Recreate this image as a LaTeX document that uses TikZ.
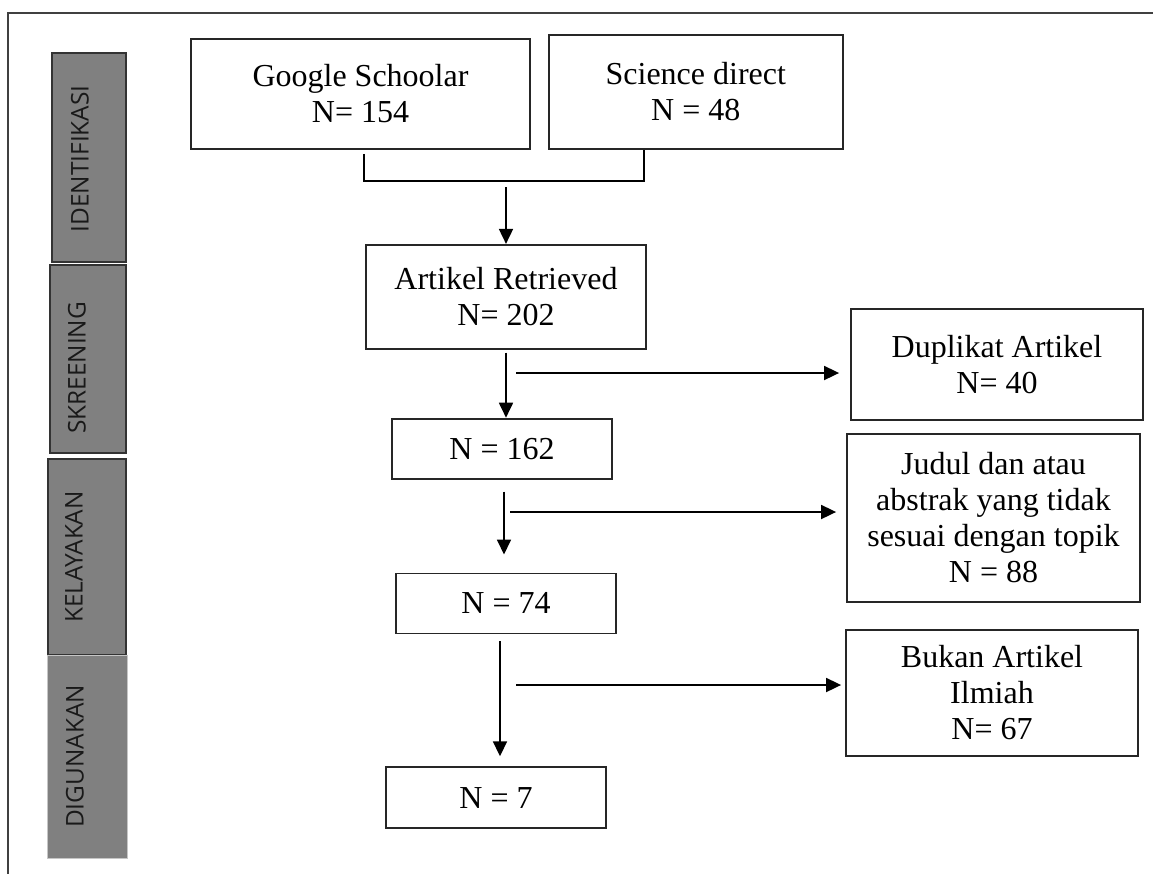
\documentclass[tikz,border=0pt]{standalone}
\usepackage{fontspec}
\setmainfont{Liberation Serif}
\setsansfont{Open Sans}
\usetikzlibrary{arrows.meta,positioning}
\tikzset{box/.style={rectangle, draw=black!85, line width=0.9pt, align=center, inner sep=2pt, font=\fontsize{16}{18}\selectfont}}
\tikzset{phase/.style={rectangle, draw=black!80, line width=0.9pt, fill=gray, inner sep=0pt}}
\tikzset{phasetxt/.style={rotate=90, inner sep=0pt, text=black!90, font=\sffamily\fontsize{12.2}{14}\selectfont}}
\tikzset{arr/.style={-{Triangle[length=7.5pt,width=7pt]}, line width=0.9pt}}

\begin{document}
\begin{tikzpicture}[x=0.5pt,y=-0.5pt]
    \useasboundingbox (0,0) rectangle (1153,874);
    \draw[line width=1.2pt, black!75] (8,874) -- (8,13) -- (1153,13);

    % phases
    \node[phase, minimum width=37pt, minimum height=104.5pt] (idf) at (89,157.5) {};
    \node[phase, minimum width=38pt, minimum height=94pt] (skr) at (88,359) {};
    \node[phase, minimum width=39pt, minimum height=98pt] (kel) at (87,557) {};
    \node[phase, draw=gray!45, line width=0.4pt, minimum width=40pt, minimum height=101.5pt] (dig) at (87,756.5) {};

    \node[phasetxt] (idft) at ([xshift=-4.5pt,yshift=-0.75pt]idf.center) {IDENTIFIKASI};
    \node[phasetxt] (skrt) at ([xshift=-5.5pt,yshift=-4.5pt]skr.center) {SKREENING};
    \node[phasetxt] (kelt) at ([xshift=-6.5pt]kel.center) {KELAYAKAN};
    \node[phasetxt] (digt) at ([xshift=-6pt]dig.center) {DIGUNAKAN};

    % main column
    \node[box, minimum width=169.5pt, minimum height=55pt] (gs) at (360.5,94) {Google Schoolar\\N= 154};
    \node[box, right=8.5pt of gs, yshift=1pt, minimum width=147pt, minimum height=57pt] (sd) {Science direct\\N = 48};

    \node[box, below=47pt of gs, xshift=72.75pt, minimum width=140pt, minimum height=52pt] (ar) {Artikel Retrieved\\N= 202};
    \node[box, below=34pt of ar, xshift=-2pt, minimum width=110pt, minimum height=30pt] (n162) {N = 162};
    \node[box, below=46.5pt of n162, xshift=2pt, minimum width=110pt, minimum height=30pt] (n74) {N = 74};
    \node[box, below=66pt of n74, xshift=-5pt, minimum width=110pt, minimum height=30.5pt] (n7) {N = 7};

    % excluded
    \node[box, minimum width=146pt, minimum height=55.5pt] (dup) at (997,364.5) {Duplikat Artikel\\N= 40};
    \node[box, below=6pt of dup, xshift=-1.75pt, minimum width=146.5pt, minimum height=84pt] (jud) {Judul dan atau\\abstrak yang tidak\\sesuai dengan topik\\N = 88};
    \node[box, below=13pt of jud, xshift=-0.75pt, minimum width=146pt, minimum height=63pt] (buk) {Bukan Artikel\\Ilmiah\\N= 67};

    \coordinate (mrg) at (506,181);
    \coordinate (sdleg) at ([xshift=-26pt]sd.south);
    \draw[line width=0.9pt] ([xshift=1.75pt,yshift=-2pt]gs.south) |- (sdleg |- mrg) -- (sdleg);
    \draw[arr, shorten <=3pt] (mrg) -- (ar.north);
    \draw[arr, shorten <=1.5pt] (ar.south) -- (ar.south |- n162.north);
    \coordinate (v2) at ([xshift=1pt]n162.south);
    \draw[arr, shorten <=6pt, shorten >=9pt] (v2) -- (v2 |- n74.north);
    \coordinate (v3) at ([xshift=-3pt]n74.south);
    \draw[arr, shorten <=3.5pt, shorten >=5pt] (v3) -- (v3 |- n7.north);

    \coordinate (h1) at (516,373);
    \coordinate (h2) at (510,512);
    \coordinate (h3) at (516,685);
    \draw[arr, shorten >=5.5pt] (h1) -- (h1 -| dup.west);
    \draw[arr, shorten >=5pt] (h2) -- (h2 -| jud.west);
    \draw[arr, shorten >=2pt] (h3) -- (h3 -| buk.west);
\end{tikzpicture}
\end{document}
